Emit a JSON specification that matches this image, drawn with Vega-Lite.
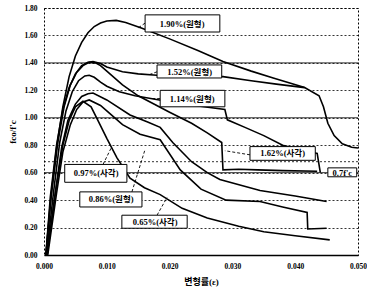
{
  "$schema": "https://vega.github.io/schema/vega-lite/v6.json",
  "width": 314,
  "height": 247,
  "autosize": "none",
  "padding": {"left": 44, "top": 8, "right": 9, "bottom": 41},
  "background": "white",
  "config": {
    "view": {"stroke": "black", "strokeDash": [2, 2], "strokeWidth": 1},
    "font": "Liberation Serif",
    "axis": {"labelOverlap": false},
    "axisX": {
      "grid": false, "ticks": false, "labelPadding": 7, "domainColor": "black", "domainWidth": 1.5,
      "labelFont": "Liberation Serif", "labelFontWeight": "bold", "labelFontSize": 7.5, "labelColor": "black",
      "titleFont": "Liberation Serif, Noto Sans CJK KR", "titleFontWeight": "bold", "titleFontSize": 9, "titleColor": "black", "titlePadding": 8
    },
    "axisY": {
      "grid": true, "gridColor": "black", "gridDash": [2, 2], "gridWidth": 0.8,
      "domain": false, "ticks": false, "labelPadding": 7,
      "labelFont": "Liberation Serif", "labelFontWeight": "bold", "labelFontSize": 7.5, "labelColor": "black",
      "titleFont": "Liberation Serif", "titleFontWeight": "bold", "titleFontSize": 9, "titleColor": "black", "titlePadding": 6
    }
  },
  "datasets": {
    "curves": [
      {"s": "1.90", "i": 1, "x": 0.0003, "y": 0},
      {"s": "1.90", "i": 2, "x": 0.001, "y": 0.38},
      {"s": "1.90", "i": 3, "x": 0.002, "y": 0.78},
      {"s": "1.90", "i": 4, "x": 0.003, "y": 1.08},
      {"s": "1.90", "i": 5, "x": 0.004, "y": 1.3},
      {"s": "1.90", "i": 6, "x": 0.005, "y": 1.45},
      {"s": "1.90", "i": 7, "x": 0.006, "y": 1.55},
      {"s": "1.90", "i": 8, "x": 0.007, "y": 1.62},
      {"s": "1.90", "i": 9, "x": 0.008, "y": 1.665},
      {"s": "1.90", "i": 10, "x": 0.009, "y": 1.69},
      {"s": "1.90", "i": 11, "x": 0.01, "y": 1.705},
      {"s": "1.90", "i": 12, "x": 0.0115, "y": 1.71},
      {"s": "1.90", "i": 13, "x": 0.013, "y": 1.695},
      {"s": "1.90", "i": 14, "x": 0.0155, "y": 1.655},
      {"s": "1.90", "i": 15, "x": 0.02, "y": 1.575},
      {"s": "1.90", "i": 16, "x": 0.0245, "y": 1.49},
      {"s": "1.90", "i": 17, "x": 0.0285, "y": 1.41},
      {"s": "1.90", "i": 18, "x": 0.033, "y": 1.34},
      {"s": "1.90", "i": 19, "x": 0.0365, "y": 1.29},
      {"s": "1.90", "i": 20, "x": 0.0415, "y": 1.22},
      {"s": "1.90", "i": 21, "x": 0.0438, "y": 1.16},
      {"s": "1.90", "i": 22, "x": 0.0445, "y": 1.08},
      {"s": "1.90", "i": 23, "x": 0.0452, "y": 0.96},
      {"s": "1.90", "i": 24, "x": 0.0462, "y": 0.87},
      {"s": "1.90", "i": 25, "x": 0.0475, "y": 0.81},
      {"s": "1.90", "i": 26, "x": 0.049, "y": 0.785},
      {"s": "1.90", "i": 27, "x": 0.05, "y": 0.78},

      {"s": "1.52", "i": 1, "x": 0.0003, "y": 0},
      {"s": "1.52", "i": 2, "x": 0.001, "y": 0.42},
      {"s": "1.52", "i": 3, "x": 0.002, "y": 0.8},
      {"s": "1.52", "i": 4, "x": 0.003, "y": 1.06},
      {"s": "1.52", "i": 5, "x": 0.004, "y": 1.22},
      {"s": "1.52", "i": 6, "x": 0.005, "y": 1.32},
      {"s": "1.52", "i": 7, "x": 0.006, "y": 1.38},
      {"s": "1.52", "i": 8, "x": 0.007, "y": 1.405},
      {"s": "1.52", "i": 9, "x": 0.0078, "y": 1.41},
      {"s": "1.52", "i": 10, "x": 0.009, "y": 1.395},
      {"s": "1.52", "i": 11, "x": 0.01, "y": 1.37},
      {"s": "1.52", "i": 12, "x": 0.0125, "y": 1.335},
      {"s": "1.52", "i": 13, "x": 0.015, "y": 1.32},
      {"s": "1.52", "i": 14, "x": 0.018, "y": 1.31},
      {"s": "1.52", "i": 15, "x": 0.0285, "y": 1.3},
      {"s": "1.52", "i": 16, "x": 0.033, "y": 1.27},
      {"s": "1.52", "i": 17, "x": 0.037, "y": 1.245},
      {"s": "1.52", "i": 18, "x": 0.0415, "y": 1.22},

      {"s": "1.62", "i": 1, "x": 0.0003, "y": 0},
      {"s": "1.62", "i": 2, "x": 0.0012, "y": 0.45},
      {"s": "1.62", "i": 3, "x": 0.0022, "y": 0.82},
      {"s": "1.62", "i": 4, "x": 0.0032, "y": 1.08},
      {"s": "1.62", "i": 5, "x": 0.0042, "y": 1.24},
      {"s": "1.62", "i": 6, "x": 0.0052, "y": 1.33},
      {"s": "1.62", "i": 7, "x": 0.0062, "y": 1.38},
      {"s": "1.62", "i": 8, "x": 0.0072, "y": 1.405},
      {"s": "1.62", "i": 9, "x": 0.0082, "y": 1.4},
      {"s": "1.62", "i": 10, "x": 0.009, "y": 1.38},
      {"s": "1.62", "i": 11, "x": 0.01, "y": 1.34},
      {"s": "1.62", "i": 12, "x": 0.0125, "y": 1.24},
      {"s": "1.62", "i": 13, "x": 0.015, "y": 1.16},
      {"s": "1.62", "i": 14, "x": 0.0175, "y": 1.1},
      {"s": "1.62", "i": 15, "x": 0.02, "y": 1.04},
      {"s": "1.62", "i": 16, "x": 0.0235, "y": 0.96},
      {"s": "1.62", "i": 17, "x": 0.026, "y": 0.89},
      {"s": "1.62", "i": 18, "x": 0.0283, "y": 0.82},
      {"s": "1.62", "i": 19, "x": 0.0285, "y": 0.62},
      {"s": "1.62", "i": 20, "x": 0.031, "y": 0.625},
      {"s": "1.62", "i": 21, "x": 0.034, "y": 0.62},
      {"s": "1.62", "i": 22, "x": 0.038, "y": 0.615},
      {"s": "1.62", "i": 23, "x": 0.0435, "y": 0.61},

      {"s": "1.14", "i": 1, "x": 0.0004, "y": 0},
      {"s": "1.14", "i": 2, "x": 0.0015, "y": 0.45},
      {"s": "1.14", "i": 3, "x": 0.0025, "y": 0.82},
      {"s": "1.14", "i": 4, "x": 0.0035, "y": 1.05},
      {"s": "1.14", "i": 5, "x": 0.0045, "y": 1.19},
      {"s": "1.14", "i": 6, "x": 0.0055, "y": 1.27},
      {"s": "1.14", "i": 7, "x": 0.0065, "y": 1.305},
      {"s": "1.14", "i": 8, "x": 0.0072, "y": 1.31},
      {"s": "1.14", "i": 9, "x": 0.008, "y": 1.295},
      {"s": "1.14", "i": 10, "x": 0.009, "y": 1.26},
      {"s": "1.14", "i": 11, "x": 0.01, "y": 1.23},
      {"s": "1.14", "i": 12, "x": 0.012, "y": 1.19},
      {"s": "1.14", "i": 13, "x": 0.0145, "y": 1.16},
      {"s": "1.14", "i": 14, "x": 0.017, "y": 1.14},
      {"s": "1.14", "i": 15, "x": 0.0195, "y": 1.12},
      {"s": "1.14", "i": 16, "x": 0.024, "y": 1.09},
      {"s": "1.14", "i": 17, "x": 0.0288, "y": 1.06},
      {"s": "1.14", "i": 18, "x": 0.0292, "y": 0.985},
      {"s": "1.14", "i": 19, "x": 0.032, "y": 0.93},
      {"s": "1.14", "i": 20, "x": 0.035, "y": 0.87},
      {"s": "1.14", "i": 21, "x": 0.038, "y": 0.8},
      {"s": "1.14", "i": 22, "x": 0.041, "y": 0.765},
      {"s": "1.14", "i": 23, "x": 0.0435, "y": 0.74},
      {"s": "1.14", "i": 24, "x": 0.044, "y": 0.6},

      {"s": "0.97", "i": 1, "x": 0.0005, "y": 0},
      {"s": "0.97", "i": 2, "x": 0.0017, "y": 0.42},
      {"s": "0.97", "i": 3, "x": 0.0028, "y": 0.78},
      {"s": "0.97", "i": 4, "x": 0.0038, "y": 0.98},
      {"s": "0.97", "i": 5, "x": 0.005, "y": 1.1},
      {"s": "0.97", "i": 6, "x": 0.006, "y": 1.155},
      {"s": "0.97", "i": 7, "x": 0.007, "y": 1.175},
      {"s": "0.97", "i": 8, "x": 0.0078, "y": 1.18},
      {"s": "0.97", "i": 9, "x": 0.01, "y": 1.13},
      {"s": "0.97", "i": 10, "x": 0.0137, "y": 1.02},
      {"s": "0.97", "i": 11, "x": 0.0165, "y": 0.97},
      {"s": "0.97", "i": 12, "x": 0.0185, "y": 0.93},
      {"s": "0.97", "i": 13, "x": 0.0205, "y": 0.82},
      {"s": "0.97", "i": 14, "x": 0.0235, "y": 0.68},
      {"s": "0.97", "i": 15, "x": 0.026, "y": 0.6},
      {"s": "0.97", "i": 16, "x": 0.028, "y": 0.55},
      {"s": "0.97", "i": 17, "x": 0.0344, "y": 0.47},
      {"s": "0.97", "i": 18, "x": 0.04, "y": 0.43},
      {"s": "0.97", "i": 19, "x": 0.045, "y": 0.39},

      {"s": "0.86", "i": 1, "x": 0.0006, "y": 0},
      {"s": "0.86", "i": 2, "x": 0.002, "y": 0.45},
      {"s": "0.86", "i": 3, "x": 0.003, "y": 0.75},
      {"s": "0.86", "i": 4, "x": 0.0042, "y": 0.95},
      {"s": "0.86", "i": 5, "x": 0.0052, "y": 1.06},
      {"s": "0.86", "i": 6, "x": 0.0062, "y": 1.115},
      {"s": "0.86", "i": 7, "x": 0.0072, "y": 1.13},
      {"s": "0.86", "i": 8, "x": 0.009, "y": 1.09},
      {"s": "0.86", "i": 9, "x": 0.0105, "y": 1.03},
      {"s": "0.86", "i": 10, "x": 0.0125, "y": 0.95},
      {"s": "0.86", "i": 11, "x": 0.0153, "y": 0.88},
      {"s": "0.86", "i": 12, "x": 0.0185, "y": 0.84},
      {"s": "0.86", "i": 13, "x": 0.0217, "y": 0.62},
      {"s": "0.86", "i": 14, "x": 0.025, "y": 0.48},
      {"s": "0.86", "i": 15, "x": 0.029, "y": 0.4},
      {"s": "0.86", "i": 16, "x": 0.0344, "y": 0.39},
      {"s": "0.86", "i": 17, "x": 0.038, "y": 0.35},
      {"s": "0.86", "i": 18, "x": 0.0419, "y": 0.31},
      {"s": "0.86", "i": 19, "x": 0.042, "y": 0.19},
      {"s": "0.86", "i": 20, "x": 0.045, "y": 0.195},

      {"s": "0.65", "i": 1, "x": 0.0005, "y": 0},
      {"s": "0.65", "i": 2, "x": 0.0018, "y": 0.45},
      {"s": "0.65", "i": 3, "x": 0.003, "y": 0.8},
      {"s": "0.65", "i": 4, "x": 0.004, "y": 0.98},
      {"s": "0.65", "i": 5, "x": 0.005, "y": 1.08},
      {"s": "0.65", "i": 6, "x": 0.0062, "y": 1.12},
      {"s": "0.65", "i": 7, "x": 0.0075, "y": 1.08},
      {"s": "0.65", "i": 8, "x": 0.0086, "y": 0.98},
      {"s": "0.65", "i": 9, "x": 0.01, "y": 0.85},
      {"s": "0.65", "i": 10, "x": 0.0116, "y": 0.71},
      {"s": "0.65", "i": 11, "x": 0.0137, "y": 0.56},
      {"s": "0.65", "i": 12, "x": 0.016, "y": 0.49},
      {"s": "0.65", "i": 13, "x": 0.0185, "y": 0.44},
      {"s": "0.65", "i": 14, "x": 0.022, "y": 0.34},
      {"s": "0.65", "i": 15, "x": 0.026, "y": 0.27},
      {"s": "0.65", "i": 16, "x": 0.031, "y": 0.21},
      {"s": "0.65", "i": 17, "x": 0.035, "y": 0.17},
      {"s": "0.65", "i": 18, "x": 0.04, "y": 0.14},
      {"s": "0.65", "i": 19, "x": 0.0455, "y": 0.11}
    ],
    "labels": [
      {"label": "1.90%(원형)", "x": 0.022, "y": 1.685, "x1": 0.0161, "x2": 0.028, "y1": 1.625, "y2": 1.75},
      {"label": "1.52%(원형)", "x": 0.0232, "y": 1.335, "x1": 0.018, "x2": 0.0283, "y1": 1.29, "y2": 1.385},
      {"label": "1.14%(원형)", "x": 0.0236, "y": 1.14, "x1": 0.0185, "x2": 0.0288, "y1": 1.08, "y2": 1.2},
      {"label": "1.62%(사각)", "x": 0.038, "y": 0.74, "x1": 0.0328, "x2": 0.0432, "y1": 0.69, "y2": 0.79},
      {"label": "0.7f'c", "x": 0.0475, "y": 0.6, "x1": 0.0452, "x2": 0.0498, "y1": 0.57, "y2": 0.635},
      {"label": "0.97%(사각)", "x": 0.0083, "y": 0.595, "x1": 0.0033, "x2": 0.0132, "y1": 0.53, "y2": 0.66},
      {"label": "0.86%(원형)", "x": 0.0107, "y": 0.405, "x1": 0.0057, "x2": 0.0156, "y1": 0.35, "y2": 0.46},
      {"label": "0.65%(사각)", "x": 0.0177, "y": 0.24, "x1": 0.0124, "x2": 0.0228, "y1": 0.195, "y2": 0.29}
    ],
    "leaders": [
      {"x": 0.0094, "y": 0.66, "x2": 0.0108, "y2": 0.79},
      {"x": 0.014, "y": 0.46, "x2": 0.0161, "y2": 0.77},
      {"x": 0.018, "y": 0.29, "x2": 0.0196, "y2": 0.42},
      {"x": 0.0328, "y": 0.73, "x2": 0.0288, "y2": 0.76},
      {"x": 0.0185, "y": 1.14, "x2": 0.0172, "y2": 1.14},
      {"x": 0.018, "y": 1.335, "x2": 0.0168, "y2": 1.315},
      {"x": 0.0161, "y": 1.69, "x2": 0.015, "y2": 1.655}
    ],
    "solidgrid": [{"y": 1.4}, {"y": 1.0}, {"y": 0.6}],
    "refline": [{"y": 0.68}]
  },
  "layer": [
    {
      "data": {"name": "curves"},
      "mark": {"type": "line", "color": "black", "strokeWidth": 1.6},
      "encoding": {
        "x": {"field": "x", "type": "quantitative", "title": "변형률(ε)",
              "scale": {"domain": [0, 0.05], "nice": false},
              "axis": {"values": [0, 0.01, 0.02, 0.03, 0.04, 0.05], "format": ".3f", "labelOverlap": false, "labelFlush": false}},
        "y": {"field": "y", "type": "quantitative", "title": "fco/f'c",
              "scale": {"domain": [0, 1.8], "nice": false},
              "axis": {"values": [0, 0.2, 0.4, 0.6, 0.8, 1.0, 1.2, 1.4, 1.6, 1.8], "format": ".2f", "labelOverlap": false, "labelFlush": false, "labelBound": false}},
        "detail": {"field": "s"},
        "order": {"field": "i", "type": "quantitative"}
      }
    },
    {
      "data": {"name": "solidgrid"},
      "mark": {"type": "rule", "color": "black", "strokeWidth": 0.8},
      "encoding": {
        "y": {"field": "y", "type": "quantitative", "title": "fco/f'c",
              "axis": {"values": [0, 0.2, 0.4, 0.6, 0.8, 1.0, 1.2, 1.4, 1.6, 1.8], "format": ".2f", "labelOverlap": false, "labelFlush": false, "labelBound": false}}
      }
    },
    {
      "data": {"name": "refline"},
      "mark": {"type": "rule", "color": "black", "strokeWidth": 0.8, "strokeDash": [2, 2]},
      "encoding": {
        "y": {"field": "y", "type": "quantitative", "title": "fco/f'c",
              "axis": {"values": [0, 0.2, 0.4, 0.6, 0.8, 1.0, 1.2, 1.4, 1.6, 1.8], "format": ".2f", "labelOverlap": false, "labelFlush": false, "labelBound": false}}
      }
    },
    {
      "data": {"name": "leaders"},
      "mark": {"type": "rule", "color": "black", "strokeWidth": 0.9, "strokeDash": [3, 2]},
      "encoding": {
        "x": {"field": "x", "type": "quantitative", "title": "변형률(ε)",
              "axis": {"values": [0, 0.01, 0.02, 0.03, 0.04, 0.05], "format": ".3f", "labelOverlap": false, "labelFlush": false}},
        "y": {"field": "y", "type": "quantitative", "title": "fco/f'c",
              "axis": {"values": [0, 0.2, 0.4, 0.6, 0.8, 1.0, 1.2, 1.4, 1.6, 1.8], "format": ".2f", "labelOverlap": false, "labelFlush": false, "labelBound": false}},
        "x2": {"field": "x2"},
        "y2": {"field": "y2"}
      }
    },
    {
      "data": {"name": "labels"},
      "mark": {"type": "rect", "fill": "white", "stroke": "black", "strokeWidth": 1},
      "encoding": {
        "x": {"field": "x1", "type": "quantitative", "title": "변형률(ε)",
              "axis": {"values": [0, 0.01, 0.02, 0.03, 0.04, 0.05], "format": ".3f", "labelOverlap": false, "labelFlush": false}},
        "x2": {"field": "x2"},
        "y": {"field": "y1", "type": "quantitative", "title": "fco/f'c",
              "axis": {"values": [0, 0.2, 0.4, 0.6, 0.8, 1.0, 1.2, 1.4, 1.6, 1.8], "format": ".2f", "labelOverlap": false, "labelFlush": false, "labelBound": false}},
        "y2": {"field": "y2"}
      }
    },
    {
      "data": {"name": "labels"},
      "mark": {"type": "text", "font": "Liberation Serif, Noto Sans CJK KR", "fontWeight": "bold", "fontSize": 8.5, "color": "black", "align": "center", "baseline": "middle"},
      "encoding": {
        "x": {"field": "x", "type": "quantitative", "title": "변형률(ε)",
              "axis": {"values": [0, 0.01, 0.02, 0.03, 0.04, 0.05], "format": ".3f", "labelOverlap": false, "labelFlush": false}},
        "y": {"field": "y", "type": "quantitative", "title": "fco/f'c",
              "axis": {"values": [0, 0.2, 0.4, 0.6, 0.8, 1.0, 1.2, 1.4, 1.6, 1.8], "format": ".2f", "labelOverlap": false, "labelFlush": false, "labelBound": false}},
        "text": {"field": "label"}
      }
    }
  ]
}
